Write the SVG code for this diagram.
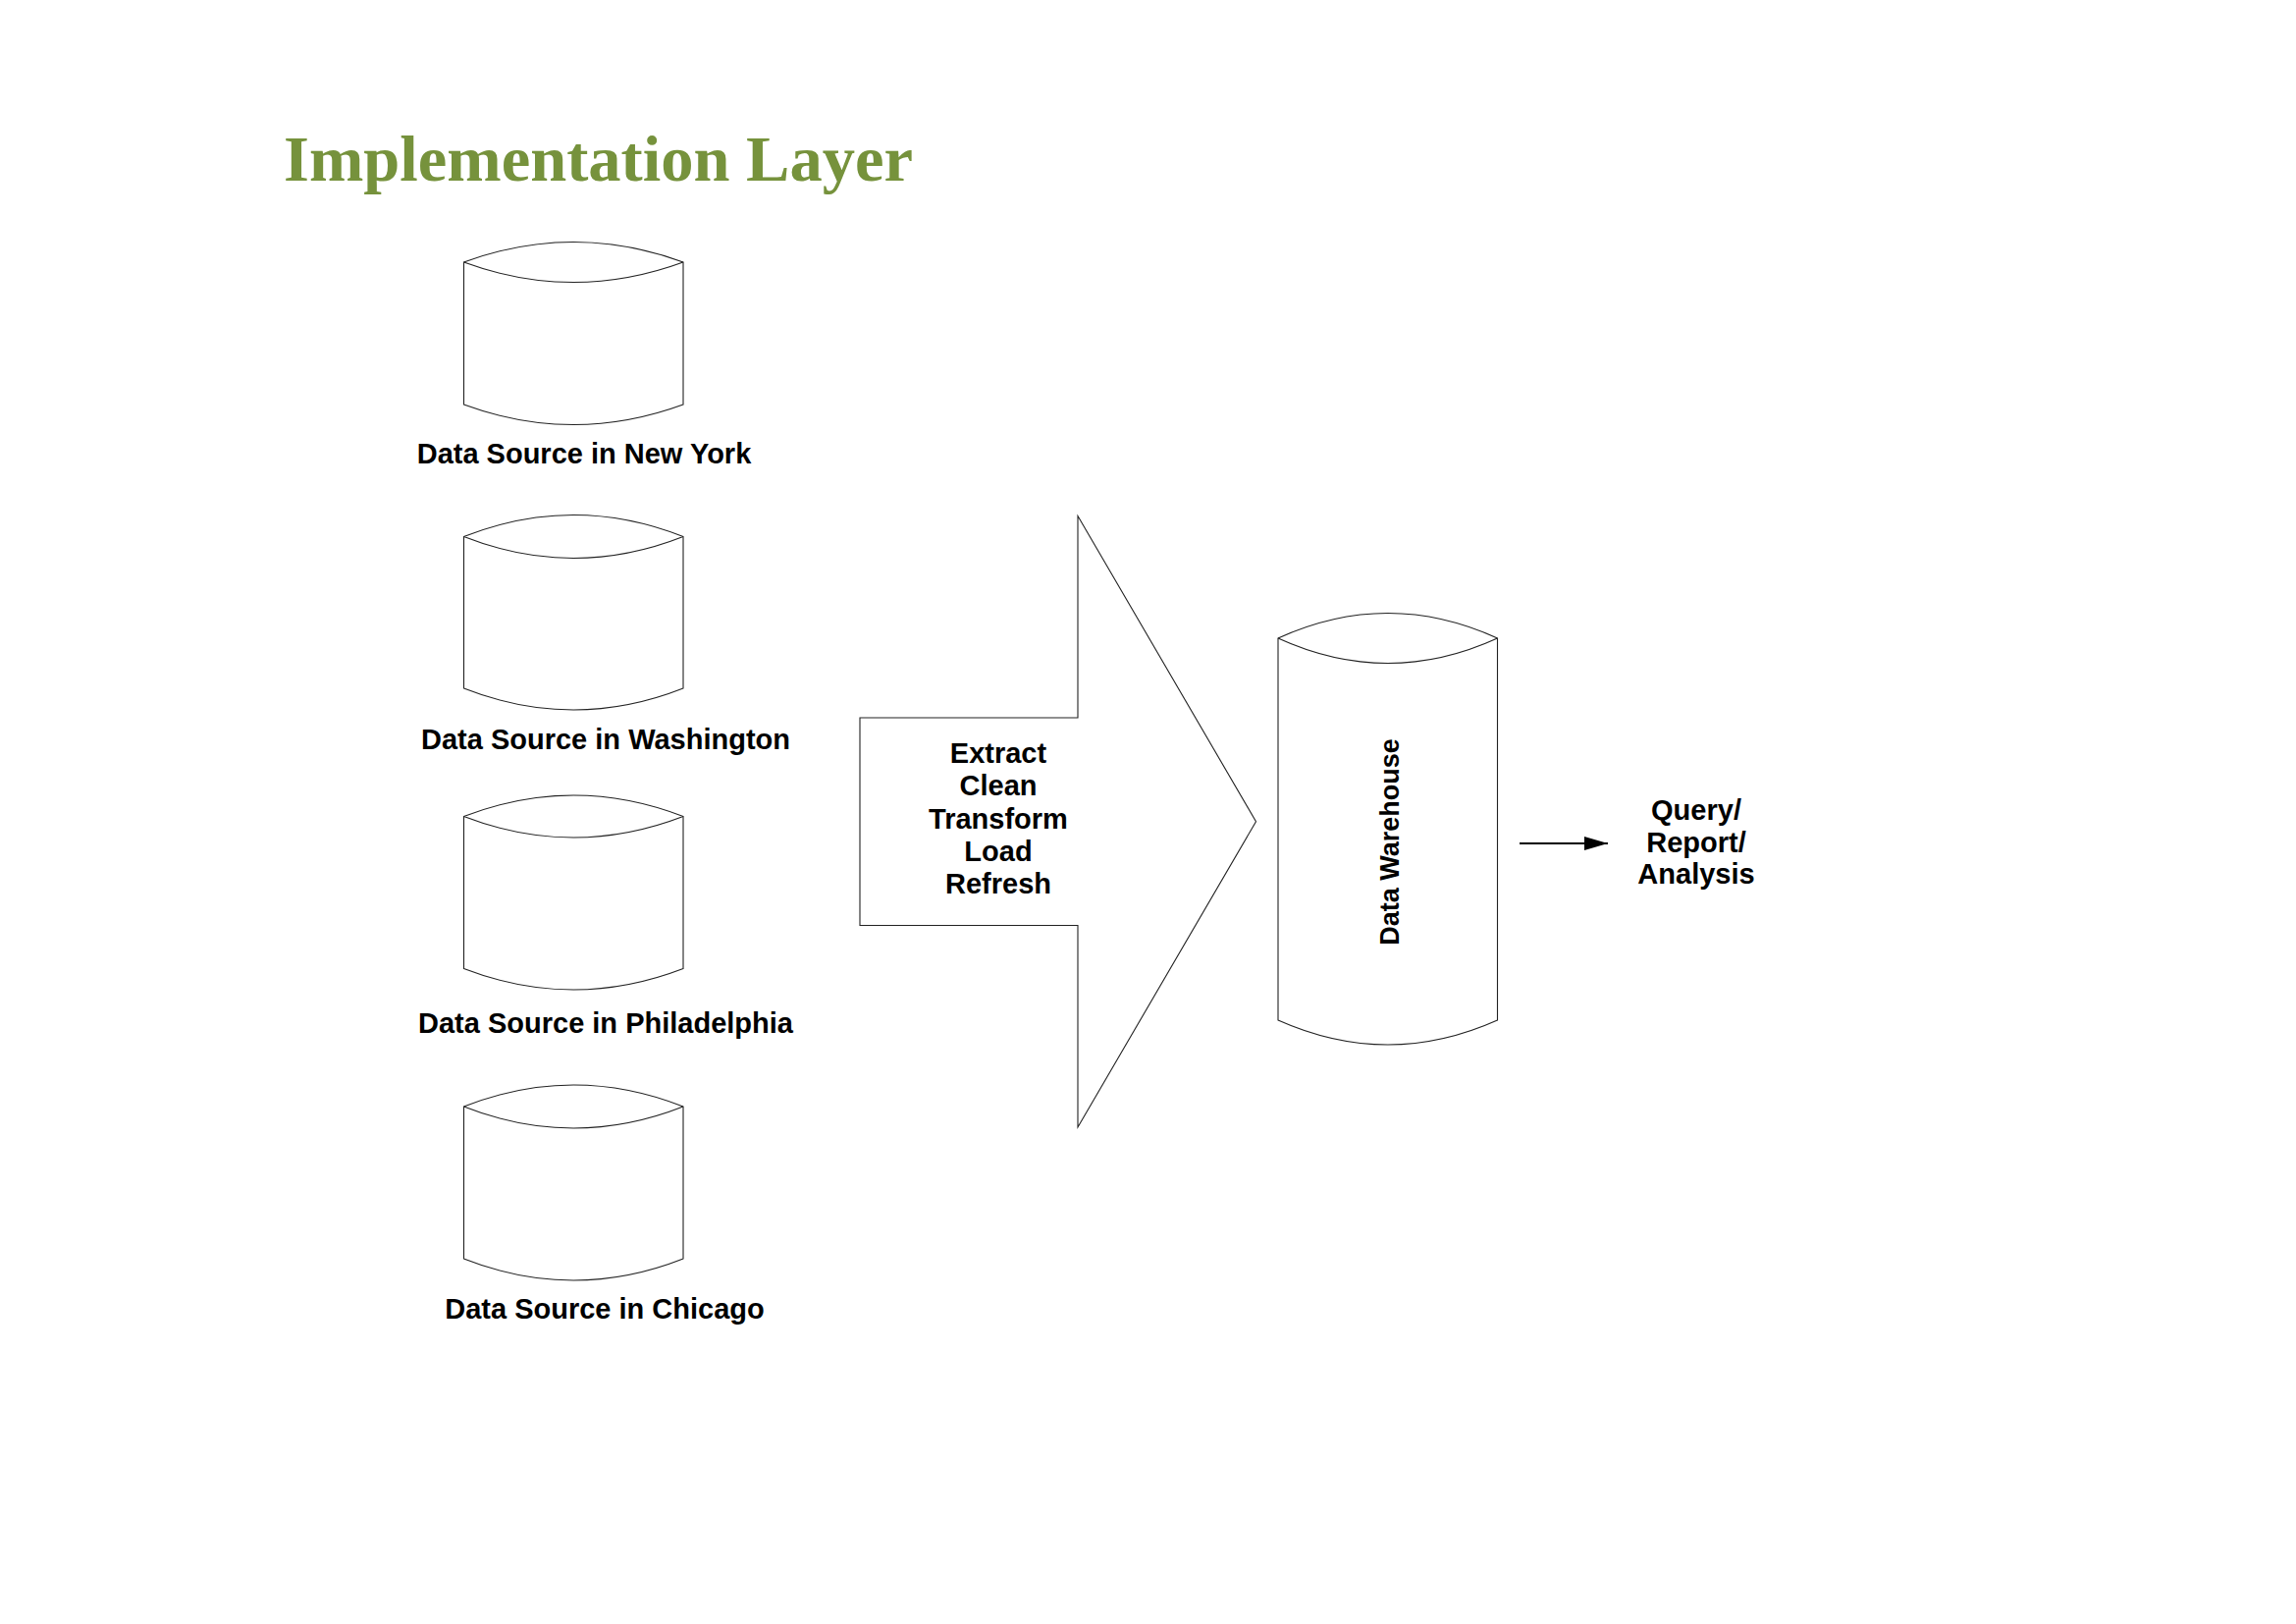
<svg xmlns="http://www.w3.org/2000/svg" width="2339" height="1654" viewBox="0 0 2339 1654">
  <style>
    .shape { fill: #ffffff; stroke: #222222; stroke-width: 1.1; stroke-linejoin: miter; }
    .label { font-family: "Liberation Sans", Arial, sans-serif; font-weight: bold; font-size: 29px; fill: #000000; text-anchor: middle; }
    .title { font-family: "Liberation Serif", "Times New Roman", serif; font-weight: bold; font-size: 66.5px; fill: #76923C; }
    .conn { stroke: #000000; stroke-width: 2; fill: none; }
  </style>
  <defs>
    <marker id="arrowhead" viewBox="0 0 24 14" refX="24" refY="7" markerWidth="24" markerHeight="14" markerUnits="userSpaceOnUse" orient="auto">
      <path d="M0,0 L24,7 L0,14 Z" fill="#000000"/>
    </marker>
  </defs>
  <rect width="2339" height="1654" fill="#ffffff"/>

  <text id="title" class="title" x="289" y="183.5">Implementation Layer</text>

  <g id="ds-newyork">
    <path class="shape" d="M472.5,267 Q584.3,226 696,267 L696,412 Q584.3,453 472.5,412 Z"/>
    <path class="shape" fill="none" d="M472.5,267 Q584.3,308 696,267"/>
    <text class="label" x="595" y="472">Data Source in New York</text>
  </g>

  <g id="ds-washington">
    <path class="shape" d="M472.5,546.5 Q584.3,502.5 696,546.5 L696,701 Q584.3,745 472.5,701 Z"/>
    <path class="shape" fill="none" d="M472.5,546.5 Q584.3,590.5 696,546.5"/>
    <text class="label" x="617" y="762.5">Data Source in Washington</text>
  </g>

  <g id="ds-philadelphia">
    <path class="shape" d="M472.5,831.5 Q584.3,788.5 696,831.5 L696,986.5 Q584.3,1029.5 472.5,986.5 Z"/>
    <path class="shape" fill="none" d="M472.5,831.5 Q584.3,874.5 696,831.5"/>
    <text class="label" x="617" y="1051.5">Data Source in Philadelphia</text>
  </g>

  <g id="ds-chicago">
    <path class="shape" d="M472.5,1127 Q584.3,1083 696,1127 L696,1282 Q584.3,1326 472.5,1282 Z"/>
    <path class="shape" fill="none" d="M472.5,1127 Q584.3,1171 696,1127"/>
    <text class="label" x="616" y="1342.5">Data Source in Chicago</text>
  </g>

  <g id="etl">
    <polygon class="shape" points="876,731 1098,731 1098,525.5 1279.5,836.7 1098,1148 1098,942.5 876,942.5"/>
    <text class="label" x="1017" y="777">Extract</text>
    <text class="label" x="1017" y="810">Clean</text>
    <text class="label" x="1017" y="843.5">Transform</text>
    <text class="label" x="1017" y="876.5">Load</text>
    <text class="label" x="1017" y="910">Refresh</text>
  </g>

  <g id="data-warehouse">
    <path class="shape" d="M1302,650 Q1413.8,599 1525.5,650 L1525.5,1039 Q1413.8,1089 1302,1039 Z"/>
    <path class="shape" fill="none" d="M1302,650 Q1413.8,701 1525.5,650"/>
    <text class="label" style="font-size:27px" transform="translate(1424.5,857.5) rotate(-90)" x="0" y="0">Data Warehouse</text>
  </g>

  <g id="query-report-analysis">
    <text class="label" x="1728" y="835">Query/</text>
    <text class="label" x="1728" y="867.5">Report/</text>
    <text class="label" x="1728" y="900">Analysis</text>
  </g>

  <g id="connectors">
    <line class="conn" x1="1548" y1="859" x2="1638" y2="859" marker-end="url(#arrowhead)"/>
  </g>
</svg>
